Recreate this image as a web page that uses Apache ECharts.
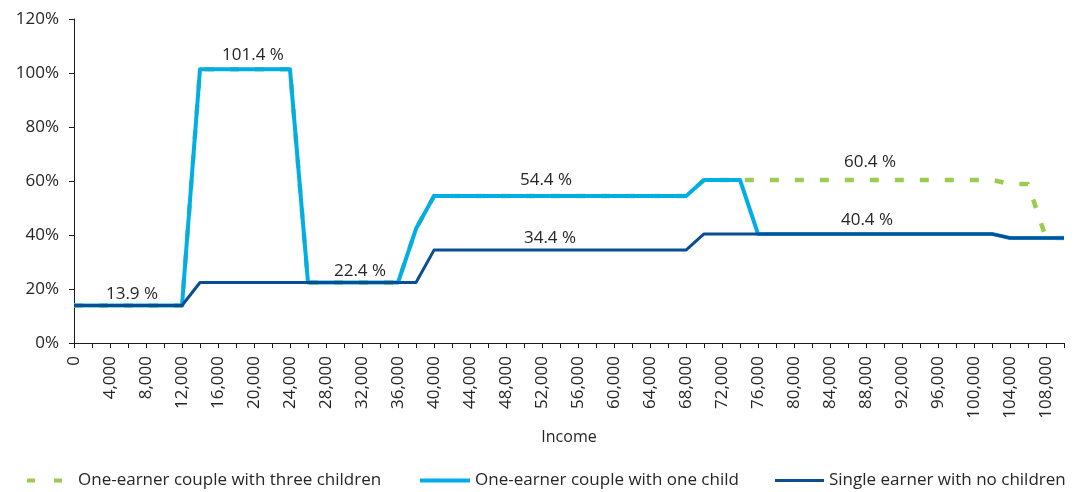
<!DOCTYPE html>
<html>
<head>
<meta charset="utf-8">
<script src="https://cdn.jsdelivr.net/npm/echarts@6/dist/echarts.min.js"></script>
<style>
  html, body { margin: 0; padding: 0; background: #fff; }
  #chart { width: 1088px; height: 492px; }
</style>
</head>
<body>
<div id="chart"></div>
<script>
// Income levels (step 2,000)
const incomes = [
  0, 2000, 4000, 6000, 8000, 10000, 12000, 14000, 16000, 18000,
  20000, 22000, 24000, 26000, 28000, 30000, 32000, 34000, 36000, 38000,
  40000, 42000, 44000, 46000, 48000, 50000, 52000, 54000, 56000, 58000,
  60000, 62000, 64000, 66000, 68000, 70000, 72000, 74000, 76000, 78000,
  80000, 82000, 84000, 86000, 88000, 90000, 92000, 94000, 96000, 98000,
  100000, 102000, 104000, 106000, 108000, 110000
];

// Effective rates, in percent
const threeChildren = [
  13.9, 13.9, 13.9, 13.9, 13.9, 13.9, 13.9, 101.4, 101.4, 101.4,
  101.4, 101.4, 101.4, 22.4, 22.4, 22.4, 22.4, 22.4, 22.4, 42.3,
  54.4, 54.4, 54.4, 54.4, 54.4, 54.4, 54.4, 54.4, 54.4, 54.4,
  54.4, 54.4, 54.4, 54.4, 54.4, 60.4, 60.4, 60.4, 60.4, 60.4,
  60.4, 60.4, 60.4, 60.4, 60.4, 60.4, 60.4, 60.4, 60.4, 60.4,
  60.4, 60.4, 58.9, 58.9, 38.9, 38.9
];
const oneChild = [
  13.9, 13.9, 13.9, 13.9, 13.9, 13.9, 13.9, 101.4, 101.4, 101.4,
  101.4, 101.4, 101.4, 22.4, 22.4, 22.4, 22.4, 22.4, 22.4, 42.3,
  54.4, 54.4, 54.4, 54.4, 54.4, 54.4, 54.4, 54.4, 54.4, 54.4,
  54.4, 54.4, 54.4, 54.4, 54.4, 60.4, 60.4, 60.4, 40.4, 40.4,
  40.4, 40.4, 40.4, 40.4, 40.4, 40.4, 40.4, 40.4, 40.4, 40.4,
  40.4, 40.4, 38.9, 38.9, 38.9, 38.9
];
const noChildren = [
  13.9, 13.9, 13.9, 13.9, 13.9, 13.9, 13.9, 22.4, 22.4, 22.4,
  22.4, 22.4, 22.4, 22.4, 22.4, 22.4, 22.4, 22.4, 22.4, 22.4,
  34.4, 34.4, 34.4, 34.4, 34.4, 34.4, 34.4, 34.4, 34.4, 34.4,
  34.4, 34.4, 34.4, 34.4, 34.4, 40.4, 40.4, 40.4, 40.4, 40.4,
  40.4, 40.4, 40.4, 40.4, 40.4, 40.4, 40.4, 40.4, 40.4, 40.4,
  40.4, 40.4, 38.9, 38.9, 38.9, 38.9
];

const seriesNames = [
  'One-earner couple with three children',
  'One-earner couple with one child',
  'Single earner with no children'
];
const colors = ['#99CC4F', '#00AEE6', '#0A4D95'];

// Annotated points: [index into data, x offset, y offset]
const labelsThree = [[44, 4, -17.5]];
const labelsOne = [[3, 4, -11], [10, -1, -14.5], [16, -2, -11], [26, 4, -16]];
const labelsNone = [[26, 8, -12], [44, 1, -14]];

const FONT = '"Open Sans", "Noto Sans", sans-serif';
const TEXT = '#262626';

function withLabels(values, marks) {
  return values.map((v, i) => {
    const m = marks.find(p => p[0] === i);
    if (!m) return v;
    return {
      value: v,
      label: {
        show: true,
        position: 'inside',
        offset: [m[1], m[2]],
        formatter: p => p.value.toFixed(1) + ' %',
        color: TEXT,
        fontSize: 17,
        fontFamily: FONT
      }
    };
  });
}

function lineSeries(name, values, marks, color, width, dash) {
  return {
    name: name,
    type: 'line',
    data: withLabels(values, marks),
    symbol: 'circle',
    symbolSize: 0,
    showSymbol: true,
    showAllSymbol: true,
    itemStyle: { color: color },
    lineStyle: { color: color, width: width, type: dash || 'solid', cap: 'butt', join: 'round' },
    label: { show: false },
    emphasis: { disabled: true },
    z: 2
  };
}

function legendBox(name, left, icon, w, h, color, padLeft) {
  return {
    data: [{ name: name, icon: icon, itemStyle: { color: color } }],
    left: left,
    top: 472,
    padding: 0,
    itemWidth: w,
    itemHeight: h,
    symbolKeepAspect: true,
    selectedMode: false,
    textStyle: { color: TEXT, fontSize: 17, fontFamily: FONT, padding: [0, 0, 0, padLeft] }
  };
}

const chart = echarts.init(document.getElementById('chart'), null, { renderer: 'canvas' });
chart.setOption({
  animation: false,
  backgroundColor: '#ffffff',
  grid: { left: 74, right: 24, top: 19, bottom: 149, containLabel: false },
  legend: [
    legendBox(seriesNames[0], 27, 'path://M0,0h8v4h-8zM27,0h8v4h-8z', 35, 4, colors[0], 11),
    legendBox(seriesNames[1], 420, 'rect', 50, 4, colors[1], 0),
    legendBox(seriesNames[2], 775, 'rect', 49, 3, colors[2], 0)
  ],
  xAxis: {
    type: 'category',
    data: incomes,
    boundaryGap: false,
    name: 'Income',
    nameLocation: 'middle',
    nameGap: 86,
    nameTextStyle: { color: TEXT, fontSize: 16, fontFamily: FONT },
    axisLine: { lineStyle: { color: '#1a1a1a', width: 1 } },
    axisTick: { show: true, interval: 0, length: 5, lineStyle: { color: '#1a1a1a' } },
    axisLabel: {
      interval: 1,
      rotate: 90,
      margin: 13,
      color: TEXT,
      fontSize: 17,
      fontFamily: FONT,
      formatter: v => Number(v).toLocaleString('en-US')
    },
    splitLine: { show: false }
  },
  yAxis: {
    type: 'value',
    min: 0,
    max: 120,
    interval: 20,
    axisLine: { show: true, lineStyle: { color: '#1a1a1a', width: 1 } },
    axisTick: { show: true, length: 5, lineStyle: { color: '#1a1a1a' } },
    axisLabel: { formatter: '{value}%', margin: 15, color: TEXT, fontSize: 17, fontFamily: FONT },
    splitLine: { show: false }
  },
  series: [
    lineSeries(seriesNames[0], threeChildren, labelsThree, colors[0], 4.5, [9, 16]),
    lineSeries(seriesNames[1], oneChild, labelsOne, colors[1], 4),
    lineSeries(seriesNames[2], noChildren, labelsNone, colors[2], 3)
  ]
});
</script>
</body>
</html>
